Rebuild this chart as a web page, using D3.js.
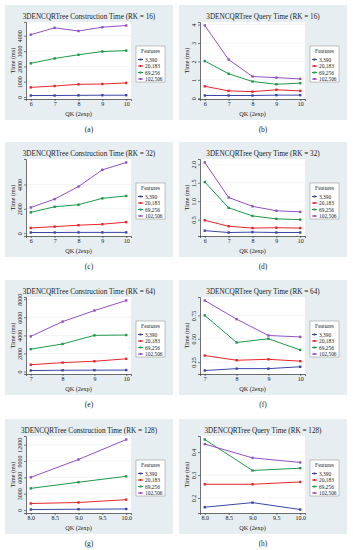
<!DOCTYPE html>
<html>
<head>
<meta charset="utf-8">
<script src="https://cdn.jsdelivr.net/npm/d3@7"></script>
<style>
  body { margin: 0; background: #fff; }
  text { font-family: "Liberation Serif", "DejaVu Serif", serif; fill: #222; }
</style>
</head>
<body>
<script>
// Données
const features = ['3,390', '20,183', '69,256', '102,506'];
const lineColors = ['#3a46a6', '#e8262b', '#1e9a4c', '#9450c2'];

const qk16 = [6, 7, 8, 9, 10];
const qk32 = [6, 7, 8, 9, 10];
const qk64 = [7, 8, 9, 10];
const qk128 = [8, 9, 10];

// temps de construction (ms)
const build16 = [
    [100, 100, 110, 120, 120],
    [630, 720, 830, 850, 920],
    [2200, 2520, 2760, 2970, 3030],
    [4070, 4520, 4310, 4560, 4670]
];
const build32 = [
    [60, 60, 70, 70, 70],
    [430, 540, 660, 740, 910],
    [1710, 2170, 2340, 2860, 3060],
    [2110, 2800, 3830, 5200, 5800]
];
const build64 = [
    [120, 150, 160, 170],
    [760, 990, 1140, 1410],
    [2480, 3050, 4000, 4040],
    [3890, 5520, 6740, 7850]
];
const build128 = [
    [100, 150, 200],
    [1200, 1390, 1900],
    [3980, 5110, 6190],
    [6000, 9280, 12950]
];

// temps de requête (ms)
const query16 = [
    [0.15, 0.15, 0.15, 0.17, 0.17],
    [0.65, 0.40, 0.36, 0.46, 0.40],
    [2.02, 1.33, 0.91, 0.76, 0.82],
    [3.95, 2.10, 1.18, 1.12, 1.05]
];
const query32 = [
    [0.20, 0.15, 0.16, 0.15, 0.15],
    [0.48, 0.32, 0.27, 0.28, 0.27],
    [1.52, 0.82, 0.60, 0.52, 0.50],
    [2.05, 1.10, 0.86, 0.74, 0.71]
];
const query64 = [
    [0.16, 0.18, 0.18, 0.20],
    [0.32, 0.27, 0.28, 0.26],
    [0.75, 0.46, 0.50, 0.38],
    [0.91, 0.71, 0.535, 0.52]
];
const query128 = [
    [0.16, 0.18, 0.15],
    [0.26, 0.26, 0.27],
    [0.455, 0.32, 0.33],
    [0.435, 0.375, 0.355]
];

const yTicksBuild16 = [0, 1000, 2000, 3000, 4000];
const yTicksQuery16 = [0, 1, 2, 3, 4];
const yTicksBuild32 = [0, 2000, 4000];
const yTicksQuery32 = [0.5, 1.0, 1.5, 2.0];
const yTicksBuild64 = [0, 2000, 4000, 6000, 8000];
const yTicksQuery64 = [0.25, 0.50, 0.75];
const yTicksBuild128 = [0, 3000, 6000, 9000, 12000];
const yTicksQuery128 = [0.2, 0.3, 0.4];
const xTicks128 = [8.0, 8.5, 9.0, 9.5, 10.0];

const captions = ['(a)', '(b)', '(c)', '(d)', '(e)', '(f)', '(g)', '(h)'];

// Liste des panneaux
const panels = [
    { title: '3DENCQRTree Construction Time (RK = 16)', x: qk16, ys: build16, yTicks: yTicksBuild16, xTicks: qk16, yFmt: d3.format('d'), xFmt: d3.format('d') },
    { title: '3DENCQRTree Query Time (RK = 16)', x: qk16, ys: query16, yTicks: yTicksQuery16, xTicks: qk16, yFmt: d3.format('d'), xFmt: d3.format('d') },
    { title: '3DENCQRTree Construction Time (RK = 32)', x: qk32, ys: build32, yTicks: yTicksBuild32, xTicks: qk32, yFmt: d3.format('d'), xFmt: d3.format('d') },
    { title: '3DENCQRTree Query Time (RK = 32)', x: qk32, ys: query32, yTicks: yTicksQuery32, xTicks: qk32, yFmt: d3.format('.1f'), xFmt: d3.format('d') },
    { title: '3DENCQRTree Construction Time (RK = 64)', x: qk64, ys: build64, yTicks: yTicksBuild64, xTicks: qk64, yFmt: d3.format('d'), xFmt: d3.format('d') },
    { title: '3DENCQRTree Query Time (RK = 64)', x: qk64, ys: query64, yTicks: yTicksQuery64, xTicks: qk64, yFmt: d3.format('.2f'), xFmt: d3.format('d') },
    { title: '3DENCQRTree Construction Time (RK = 128)', x: qk128, ys: build128, yTicks: yTicksBuild128, xTicks: xTicks128, yFmt: d3.format('d'), xFmt: d3.format('.1f') },
    { title: '3DENCQRTree Query Time (RK = 128)', x: qk128, ys: query128, yTicks: yTicksQuery128, xTicks: xTicks128, yFmt: d3.format('.1f'), xFmt: d3.format('.1f') }
];

const svg = d3.select('body').append('svg')
    .attr('width', 353)
    .attr('height', 550);

const rowTops = [5, 142, 280, 419];

panels.forEach((p, i) => {
    const px = i % 2 ? 179 : 5;
    const py = rowTops[Math.floor(i / 2)];
    const g = svg.append('g').attr('transform', `translate(${px},${py})`);

    // fond du panneau
    g.append('rect')
        .attr('width', 168).attr('height', 115)
        .attr('fill', '#e7eef1');

    g.append('text')
        .attr('x', 84).attr('y', 14)
        .attr('text-anchor', 'middle')
        .attr('font-size', 7.2)
        .text(p.title);

    const left = 21, right = 126, top = 17, bottom = 94;

    // échelles avec 5% d'expansion
    const xExt = d3.extent(p.x);
    const xPad = (xExt[1] - xExt[0]) * 0.05;
    const x = d3.scaleLinear().domain([xExt[0] - xPad, xExt[1] + xPad]).range([left, right]);
    const yExt = d3.extent(p.ys.flat());
    const yPad = (yExt[1] - yExt[0]) * 0.05;
    const y = d3.scaleLinear().domain([yExt[0] - yPad, yExt[1] + yPad]).range([bottom, top]);

    g.append('rect')
        .attr('x', left).attr('y', top)
        .attr('width', right - left).attr('height', bottom - top)
        .attr('fill', '#fff');

    // grille
    g.append('g').selectAll('line')
        .data(p.yTicks)
        .enter().append('line')
        .attr('x1', left).attr('x2', right)
        .attr('y1', d => y(d)).attr('y2', d => y(d))
        .attr('stroke', '#ececec').attr('stroke-width', 0.6);

    // axes
    const xAxis = g.append('g')
        .attr('transform', `translate(0,${bottom})`)
        .call(d3.axisBottom(x).tickValues(p.xTicks).tickFormat(p.xFmt).tickSize(2).tickPadding(1));
    xAxis.select('.domain').attr('stroke', '#333').attr('stroke-width', 0.7);
    xAxis.selectAll('.tick line').attr('stroke', '#333').attr('stroke-width', 0.6);
    xAxis.selectAll('text').attr('font-size', 6).attr('font-family', '"Liberation Serif", serif').attr('fill', '#222');

    const yAxis = g.append('g')
        .attr('transform', `translate(${left},0)`)
        .call(d3.axisLeft(y).tickValues(p.yTicks).tickFormat(p.yFmt).tickSize(2));
    yAxis.select('.domain').attr('stroke', '#333').attr('stroke-width', 0.7);
    yAxis.selectAll('.tick line').attr('stroke', '#333').attr('stroke-width', 0.6);
    yAxis.selectAll('text')
        .attr('font-size', 6)
        .attr('font-family', '"Liberation Serif", serif')
        .attr('fill', '#222')
        .attr('x', 0).attr('dy', 0)
        .attr('text-anchor', 'middle')
        .attr('transform', 'translate(-4,0) rotate(-90)');

    // titres des axes
    g.append('text')
        .attr('x', (left + right) / 2).attr('y', 110.5)
        .attr('text-anchor', 'middle')
        .attr('font-size', 6.2)
        .text('QK (2exp)');
    g.append('text')
        .attr('transform', `translate(10,${(top + bottom) / 2}) rotate(-90)`)
        .attr('text-anchor', 'middle')
        .attr('font-size', 6.2)
        .text('Time (ms)');

    // séries
    const line = d3.line().x((d, k) => x(p.x[k])).y(d => y(d));
    p.ys.forEach((series, s) => {
        g.append('path')
            .datum(series)
            .attr('d', line)
            .attr('fill', 'none')
            .attr('stroke', lineColors[s])
            .attr('stroke-width', 1);
        g.append('g').selectAll('rect')
            .data(series)
            .enter().append('rect')
            .attr('x', (d, k) => x(p.x[k]) - 1.2)
            .attr('y', d => y(d) - 1.2)
            .attr('width', 2.4).attr('height', 2.4)
            .attr('fill', lineColors[s]);
    });

    // légende
    const lg = g.append('g').attr('transform', 'translate(131,41)');
    lg.append('rect')
        .attr('width', 29).attr('height', 36)
        .attr('fill', '#fff')
        .attr('stroke', '#888').attr('stroke-width', 0.5);
    lg.append('text')
        .attr('x', 14.5).attr('y', 7)
        .attr('text-anchor', 'middle')
        .attr('font-size', 5.6)
        .text('Features');
    features.forEach((f, s) => {
        const yy = 13.5 + s * 6.5;
        lg.append('line')
            .attr('x1', 2).attr('x2', 7)
            .attr('y1', yy).attr('y2', yy)
            .attr('stroke', lineColors[s]).attr('stroke-width', 1);
        lg.append('rect')
            .attr('x', 3.5).attr('y', yy - 1)
            .attr('width', 2).attr('height', 2)
            .attr('fill', lineColors[s]);
        lg.append('text')
            .attr('x', 9).attr('y', yy + 2)
            .attr('font-size', 5.4)
            .text(f);
    });

    // légende de la figure
    svg.append('text')
        .attr('x', px + 84).attr('y', py + 127)
        .attr('text-anchor', 'middle')
        .attr('font-size', 7.5)
        .text(captions[i]);
});
</script>
</body>
</html>
